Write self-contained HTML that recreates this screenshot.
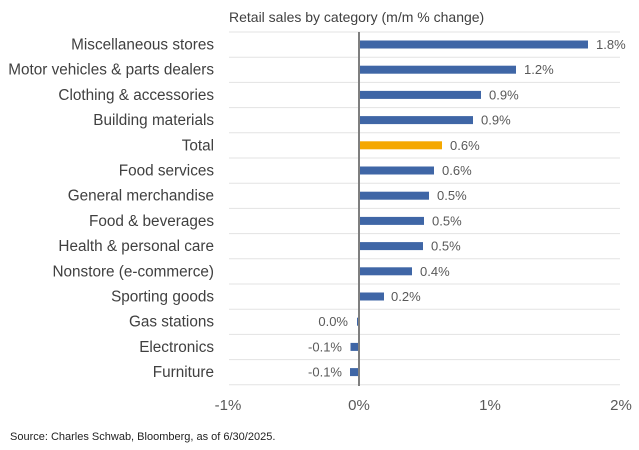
<!DOCTYPE html>
<html><head><meta charset="utf-8"><style>body{margin:0;background:#fff}svg{display:block}text{font-family:"Liberation Sans",sans-serif}</style></head>
<body>
<svg width="639" height="450" viewBox="0 0 639 450" xmlns="http://www.w3.org/2000/svg">
<text x="229" y="22" font-size="14" fill="#404040">Retail sales by category (m/m % change)</text>
<g stroke="#e3e3e3" stroke-width="1">
<line x1="229" x2="620" y1="32" y2="32"/><line x1="229" x2="620" y1="57.2" y2="57.2"/><line x1="229" x2="620" y1="82.4" y2="82.4"/><line x1="229" x2="620" y1="107.6" y2="107.6"/><line x1="229" x2="620" y1="132.8" y2="132.8"/><line x1="229" x2="620" y1="158" y2="158"/><line x1="229" x2="620" y1="183.2" y2="183.2"/><line x1="229" x2="620" y1="208.4" y2="208.4"/><line x1="229" x2="620" y1="233.6" y2="233.6"/><line x1="229" x2="620" y1="258.8" y2="258.8"/><line x1="229" x2="620" y1="284" y2="284"/><line x1="229" x2="620" y1="309.2" y2="309.2"/><line x1="229" x2="620" y1="334.4" y2="334.4"/><line x1="229" x2="620" y1="359.6" y2="359.6"/><line x1="229" x2="620" y1="384.8" y2="384.8"/>
</g>
<g fill="#3f66a6">
<rect x="359" y="40.5" width="229" height="8"/>
<rect x="359" y="65.7" width="157" height="8"/>
<rect x="359" y="90.9" width="122" height="8"/>
<rect x="359" y="116.1" width="114" height="8"/>
<rect x="359" y="141.3" width="83" height="8" fill="#f5a800"/>
<rect x="359" y="166.5" width="75" height="8"/>
<rect x="359" y="191.7" width="70" height="8"/>
<rect x="359" y="216.9" width="65" height="8"/>
<rect x="359" y="242.1" width="64" height="8"/>
<rect x="359" y="267.3" width="53" height="8"/>
<rect x="359" y="292.5" width="25" height="8"/>
<rect x="357" y="317.7" width="2" height="8"/>
<rect x="350.5" y="342.9" width="8.5" height="8"/>
<rect x="350" y="368.1" width="9" height="8"/>
</g>
<line x1="359" x2="359" y1="32" y2="386" stroke="#7f7f7f" stroke-width="2"/>
<g font-size="13" fill="#595959">
<text x="596" y="49">1.8%</text><text x="524" y="74.2">1.2%</text><text x="489" y="99.4">0.9%</text><text x="481" y="124.6">0.9%</text><text x="450" y="149.8">0.6%</text><text x="442" y="175">0.6%</text><text x="437" y="200.2">0.5%</text><text x="432" y="225.4">0.5%</text><text x="431" y="250.6">0.5%</text><text x="420" y="275.8">0.4%</text><text x="391" y="301">0.2%</text>
<g text-anchor="end"><text x="348" y="326.2">0.0%</text><text x="342" y="351.4">-0.1%</text><text x="342" y="376.6">-0.1%</text></g>
</g>
<g font-size="15.3" fill="#404040" text-anchor="end">
<text x="214" y="49.5">Miscellaneous stores</text><text x="214" y="74.7">Motor vehicles &amp; parts dealers</text><text x="214" y="99.9">Clothing &amp; accessories</text><text x="214" y="125.1">Building materials</text><text x="214" y="150.3">Total</text><text x="214" y="175.5">Food services</text><text x="214" y="200.7">General merchandise</text><text x="214" y="225.9">Food &amp; beverages</text><text x="214" y="251.1">Health &amp; personal care</text><text x="214" y="276.3">Nonstore (e-commerce)</text><text x="214" y="301.5">Sporting goods</text><text x="214" y="326.7">Gas stations</text><text x="214" y="351.9">Electronics</text><text x="214" y="377.1">Furniture</text>
</g>
<g font-size="15" fill="#595959" text-anchor="middle">
<text x="228" y="410">-1%</text><text x="359" y="410">0%</text><text x="490" y="410">1%</text><text x="621" y="410">2%</text>
</g>
<text x="10" y="440" font-size="11" fill="#222">Source: Charles Schwab, Bloomberg, as of 6/30/2025.</text>
</svg>
</body></html>
